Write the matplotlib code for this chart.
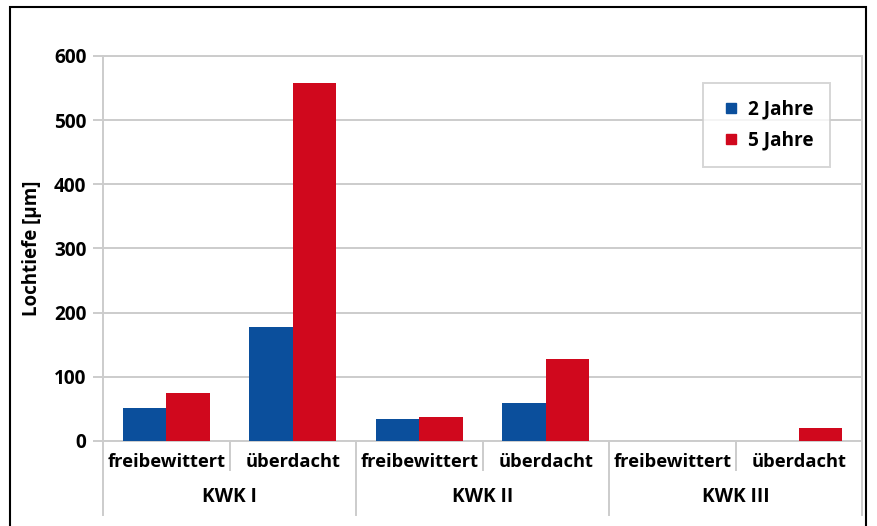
import numpy as np
from matplotlib import pyplot as plt
from matplotlib.lines import Line2D
from matplotlib.patches import Rectangle

### data ###

categories = ['freibewittert', 'überdacht', 'freibewittert', 'überdacht',
              'freibewittert', 'überdacht']
groups = ['KWK I', 'KWK II', 'KWK III']
years_2 = [51, 178, 35, 59, 0, 0]
years_5 = [75, 558, 38, 128, 0, 20]
series_names = ['2 Jahre', '5 Jahre']

blue = '#0b4f9c'
red = '#d0081d'
grid_col = '#cccccc'
fs = 13.2

plt.rcParams['font.family'] = ['Open Sans', 'DejaVu Sans']
plt.rcParams['font.size'] = fs
plt.rcParams['font.weight'] = 'bold'

fig = plt.figure(figsize=(8.77, 5.26), dpi=100)
ax = fig.add_axes([103 / 877, 85 / 526, 759 / 877, 385 / 526])

x = np.arange(len(categories))
w = 0.344
ax.bar(x - w / 2, years_2, width=w, color=blue, zorder=3)
ax.bar(x + w / 2, years_5, width=w, color=red, zorder=3)

ax.set_xlim(-0.5, len(categories) - 0.5)
ax.set_ylim(0, 600)
ax.set_yticks(range(0, 601, 100))
ax.grid(axis='y', color=grid_col, linewidth=1.4, zorder=0)
ax.tick_params(axis='y', length=7, color=grid_col, width=1.4, pad=5, labelsize=fs + 0.5)
ax.set_xticks([])
for s in ax.spines.values():
    s.set_color(grid_col)
    s.set_linewidth(1.4)

ax.set_ylabel('Lochtiefe [µm]', fontsize=fs + 0.3, fontweight='bold')
ax.yaxis.set_label_coords(-0.080, 0.5)

# two-level category axis
tr = ax.get_xaxis_transform()
for i, c in enumerate(categories):
    ax.text(i, -0.055, c, transform=tr, ha='center', va='center',
            fontsize=fs, fontweight='bold')
for g, name in enumerate(groups):
    ax.text(2 * g + 0.5, -0.145, name, transform=tr, ha='center', va='center',
            fontsize=fs + 0.5, fontweight='bold')
for b in np.arange(-0.5, len(categories), 1.0):
    k = int(b + 0.5)
    y_end = -0.192 if k % 2 == 0 else -0.075
    ax.add_line(Line2D([b, b], [0, y_end], transform=tr, color=grid_col,
                       linewidth=1.4, clip_on=False))

# legend
handles = [Line2D([], [], marker='s', linestyle='none', markersize=7,
                  color=col) for col in (blue, red)]
leg = ax.legend(handles, series_names, loc='upper right',
                bbox_to_anchor=(830 / 877, 1 - 83 / 526),
                bbox_transform=fig.transFigure, frameon=True, fancybox=False,
                edgecolor=grid_col, handlelength=1.2, handletextpad=0.3,
                borderpad=0.85, labelspacing=0.6, borderaxespad=0,
                prop={'size': fs + 0.5, 'weight': 'bold'})
leg.get_frame().set_linewidth(1.4)

# outer frame
fig.add_artist(Rectangle((10 / 877, -0.01), 866 / 877 - 10 / 877, 1.01 - 7 / 526,
                         transform=fig.transFigure, fill=False,
                         edgecolor='black', linewidth=1.5))

plt.savefig('out.png', dpi=100)
